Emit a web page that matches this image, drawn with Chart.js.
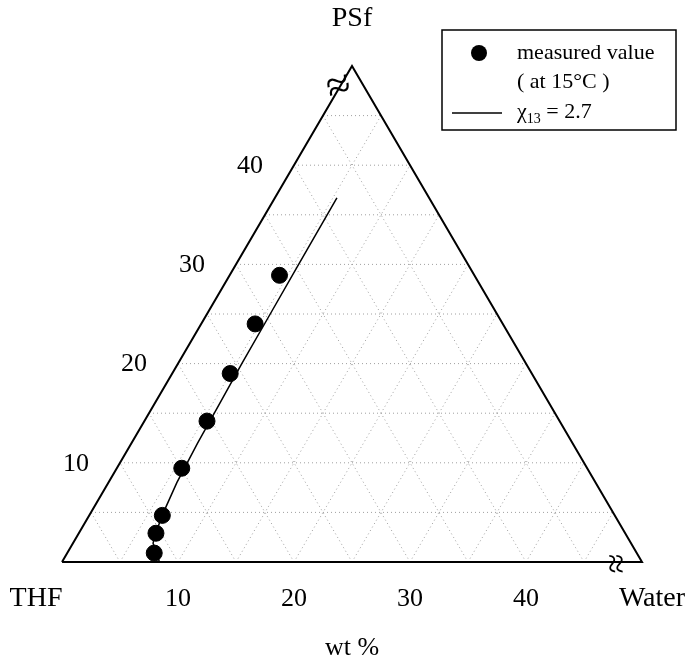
<!DOCTYPE html>
<html>
<head>
<meta charset="utf-8">
<script src="https://cdn.jsdelivr.net/npm/chart.js@4"></script>
<style>
  html, body { margin: 0; padding: 0; background: #fff; }
  canvas { display: block; }
</style>
</head>
<body>
<canvas id="chart" width="688" height="660"></canvas>
<script>
// ternary plot, each side runs 0..50 wt%
const axisTicks = [10, 20, 30, 40]
const gridSteps = [5, 10, 15, 20, 25, 30, 35, 40, 45]
const cornerLabels = ['THF', 'Water', 'PSf']

// measured cloud points (at 15 C)
const psfMeasured = [0.9, 2.9, 4.7, 9.45, 14.2, 19.0, 24.0, 28.9]
const waterMeasured = [7.5, 6.65, 6.3, 5.6, 5.4, 5.0, 4.65, 4.3]

// calculated binodal, chi13 = 2.7
const psfCurve = [0, 0.9, 1.9, 3, 5, 8, 12, 16, 20, 25, 30, 36.7]
const waterCurve = [8.4, 7.7, 6.9, 6.6, 6.25, 5.9, 5.7, 5.6, 5.5, 5.45, 5.4, 5.35]

const SIDE = 50
const SERIF = '"Liberation Serif", "Times New Roman", serif'

// (water, psf) -> cartesian point on the scales
const toXY = (w, p) => ({ x: w + p / 2, y: p })

const gridColor = '#a0a0a0'
const gridLine = (pts) => ({
  data: pts,
  showLine: true,
  borderColor: gridColor,
  borderWidth: 1,
  borderDash: [1, 3],
  pointRadius: 0,
  clip: false,
  order: 3,
})

const gridDatasets = []
for (const s of gridSteps) {
  gridDatasets.push(gridLine([toXY(0, s), toXY(SIDE - s, s)]))  // constant PSf
  gridDatasets.push(gridLine([toXY(s, 0), toXY(s, SIDE - s)]))  // constant water
  gridDatasets.push(gridLine([toXY(s, 0), toXY(0, s)]))         // constant THF
}

const frame = {
  data: [toXY(0, 0), toXY(SIDE, 0), toXY(0, SIDE), toXY(0, 0)],
  showLine: true,
  borderColor: '#000',
  borderWidth: 2,
  pointRadius: 0,
  clip: false,
  order: 2,
}

const curve = {
  data: psfCurve.map((p, i) => toXY(waterCurve[i], p)),
  showLine: true,
  borderColor: '#000',
  borderWidth: 1.5,
  pointRadius: 0,
  clip: false,
  order: 1,
}

const measured = {
  data: psfMeasured.map((p, i) => toXY(waterMeasured[i], p)),
  showLine: false,
  backgroundColor: '#000',
  borderColor: '#000',
  pointRadius: 8,
  pointHoverRadius: 8,
  clip: false,
  order: 0,
}

const decorations = {
  id: 'decorations',
  afterDatasetsDraw(chart) {
    const { ctx, scales: { x, y } } = chart
    const px = (w, p) => {
      const c = toXY(w, p)
      return [x.getPixelForValue(c.x), y.getPixelForValue(c.y)]
    }
    ctx.save()
    ctx.fillStyle = '#000'
    ctx.strokeStyle = '#000'
    ctx.textBaseline = 'middle'
    ctx.textAlign = 'center'

    // tick labels
    ctx.font = '26px ' + SERIF
    for (const t of axisTicks) {
      const [lx, ly] = px(0, t)
      ctx.fillText(String(t), lx - 44, ly + 1)
      const [bx, by] = px(t, 0)
      ctx.fillText(String(t), bx, by + 37)
    }

    // corner names
    const [x0, y0] = px(0, 0)
    const [x1, y1] = px(SIDE, 0)
    const [x2, y2] = px(0, SIDE)
    ctx.font = '28px ' + SERIF
    ctx.fillText(cornerLabels[0], x0 - 26, y0 + 37)
    ctx.fillText(cornerLabels[1], x1 + 10, y1 + 37)
    ctx.fillText(cornerLabels[2], x2, y2 - 47)
    ctx.font = '26px ' + SERIF
    ctx.fillText('wt %', (x0 + x1) / 2, 648)

    // axis breaks
    ctx.font = '44px ' + SERIF
    const [ax, ay] = px(0, 47.8)
    ctx.save()
    ctx.translate(ax, ay)
    ctx.rotate(-0.3)
    ctx.fillText('\u2248', 0, 0)
    ctx.restore()
    ctx.font = '36px ' + SERIF
    const [bx, by] = px(47.5, 0)
    ctx.save()
    ctx.translate(bx, by + 2)
    ctx.rotate(Math.PI / 2)
    ctx.fillText('\u2248', 0, 0)
    ctx.restore()

    // legend box
    const lx = 442, ly = 30, lw = 234, lh = 100
    ctx.lineWidth = 1.5
    ctx.strokeRect(lx, ly, lw, lh)
    ctx.beginPath()
    ctx.arc(479, 53, 8, 0, Math.PI * 2)
    ctx.fill()
    ctx.lineWidth = 1.3
    ctx.beginPath()
    ctx.moveTo(452, 113)
    ctx.lineTo(502, 113)
    ctx.stroke()

    ctx.textAlign = 'left'
    ctx.font = '22px ' + SERIF
    ctx.fillText('measured value', 517, 53)
    ctx.fillText('( at 15\u00B0C )', 517, 82)
    ctx.fillText('\u03C7', 517, 112)
    const chiW = ctx.measureText('\u03C7').width
    ctx.font = '14px ' + SERIF
    ctx.fillText('13', 517 + chiW, 119)
    const subW = ctx.measureText('13').width
    ctx.font = '22px ' + SERIF
    ctx.fillText(' = 2.7', 517 + chiW + subW, 112)
    ctx.restore()
  },
}

new Chart(document.getElementById('chart'), {
  type: 'scatter',
  data: { datasets: [...gridDatasets, frame, curve, measured] },
  options: {
    responsive: false,
    animation: false,
    events: [],
    layout: { padding: { left: 62, right: 46, top: 66, bottom: 98 } },
    scales: {
      x: { type: 'linear', min: 0, max: SIDE, display: false },
      y: { type: 'linear', min: 0, max: SIDE, display: false },
    },
    plugins: {
      legend: { display: false },
      tooltip: { enabled: false },
    },
  },
  plugins: [decorations],
})
</script>
</body>
</html>
